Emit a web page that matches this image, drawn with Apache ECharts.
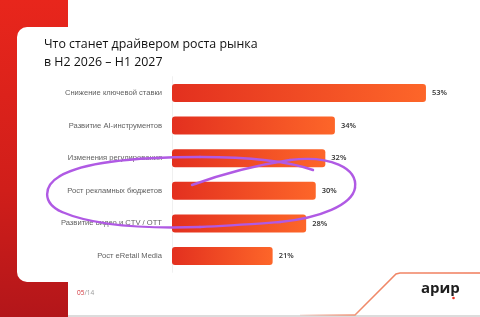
<!DOCTYPE html>
<html>
<head>
<meta charset="utf-8">
<script src="https://cdn.jsdelivr.net/npm/echarts@6/dist/echarts.min.js"></script>
<style>
  html, body { margin: 0; padding: 0; background: #fff; }
  #chart { width: 480px; height: 317px; }
</style>
</head>
<body>
<div id="chart"></div>
<script>
// данные
const categories = [
  'Снижение ключевой ставки',
  'Развитие AI-инструментов',
  'Изменения регулирования',
  'Рост рекламных бюджетов',
  'Развитие видео и CTV / OTT',
  'Рост eRetail Media'
]
const values = [53, 34, 32, 30, 28, 21]

const chart = echarts.init(document.getElementById('chart'))

const barColor = new echarts.graphic.LinearGradient(0, 0, 1, 0, [
  { offset: 0, color: '#e3301f' },
  { offset: 1, color: '#fd6629' }
])

// пометка от руки (кривые Безье)
const penStroke = { fill: null, stroke: '#b05ae4', lineWidth: 2.4, lineCap: 'round' }
const penCurves = [
  [192, 185, 222.7, 173.7, 255.3, 165.3, 290, 160],
  [290, 160, 330, 155, 358, 168, 355, 188],
  [355, 188, 352, 205, 320, 218, 280, 222],
  [280, 222, 253, 224, 227, 226, 200, 227],
  [200, 227, 140, 229, 90, 224, 62, 212],
  [62, 212, 42, 203, 43, 186, 60, 176],
  [60, 176, 82, 163, 130, 157, 200, 157],
  [200, 157, 250, 157, 290, 162, 313, 170]
].map(c => ({
  type: 'bezierCurve', z: 100, silent: true,
  shape: { x1: c[0], y1: c[1], cpx1: c[2], cpy1: c[3], cpx2: c[4], cpy2: c[5], x2: c[6], y2: c[7] },
  style: penStroke
}))

chart.setOption({
  backgroundColor: '#fff',
  animation: false,
  title: {
    text: 'Что станет драйвером роста рынка\nв H2 2026 – H1 2027',
    left: 44,
    top: 35,
    padding: 0,
    textStyle: {
      fontFamily: 'Open Sans',
      fontSize: 12.4,
      fontWeight: 'normal',
      lineHeight: 18,
      color: '#111'
    }
  },
  graphic: [
    // красная панель слева
    {
      type: 'rect', z: -20, silent: true,
      shape: { x: 0, y: 0, width: 68, height: 317 },
      style: {
        fill: new echarts.graphic.LinearGradient(0, 0, 0, 1, [
          { offset: 0, color: '#e8261c' },
          { offset: 0.6, color: '#d01e1a' },
          { offset: 1, color: '#b3161a' }
        ])
      }
    },
    // белая карточка
    {
      type: 'rect', z: -15, silent: true,
      shape: { x: 17, y: 27, width: 480, height: 255, r: [10, 0, 0, 10] },
      style: { fill: '#fff' }
    },
    {
      type: 'rect', z: -15, silent: true,
      shape: { x: 68, y: 282, width: 412, height: 33 },
      style: { fill: '#fff' }
    },
    {
      type: 'rect', z: -14, silent: true,
      shape: { x: 68, y: 315, width: 412, height: 2 },
      style: { fill: '#dcdcdc' }
    },
    // декоративная линия
    {
      type: 'polyline', z: -10, silent: true,
      shape: { points: [[300, 315], [355, 315], [396, 274], [400, 273], [480, 273]] },
      style: {
        fill: null,
        lineWidth: 1.5,
        stroke: new echarts.graphic.LinearGradient(0, 0, 1, 0, [
          { offset: 0, color: 'rgba(240,120,90,0.1)' },
          { offset: 0.35, color: '#f08a6a' },
          { offset: 1, color: '#f07a5a' }
        ])
      }
    },
    // номер страницы
    {
      type: 'text', z: 10, silent: true,
      x: 77, y: 290,
      style: {
        text: '{a|05}{b|/14}',
        rich: {
          a: { fontFamily: 'Open Sans', fontSize: 6.5, fill: '#d2343a' },
          b: { fontFamily: 'Open Sans', fontSize: 6.5, fill: '#9a9a9a' }
        }
      }
    },
    // логотип
    {
      type: 'text', z: 10, silent: true,
      x: 421, y: 281,
      style: {
        text: 'арир',
        fontFamily: 'Open Sans',
        fontWeight: 'bold',
        fontSize: 15,
        fill: '#1e1e1e'
      }
    },
    {
      type: 'circle', z: 11, silent: true,
      shape: { cx: 453.5, cy: 298, r: 1.3 },
      style: { fill: '#ee3322' }
    }
  ].concat(penCurves),
  grid: {
    left: 172,
    right: 20.5,
    top: 76.7,
    bottom: 44.7,
    containLabel: false
  },
  xAxis: {
    type: 'value',
    min: 0,
    max: 60,
    show: false
  },
  yAxis: {
    type: 'category',
    data: categories,
    inverse: true,
    axisLine: { show: true, lineStyle: { color: '#f0f0f0', width: 1 } },
    axisTick: { show: false },
    axisLabel: {
      margin: 10,
      fontFamily: 'Liberation Sans',
      fontSize: 7.6,
      color: '#5f5f5f'
    }
  },
  series: [
    {
      type: 'bar',
      data: values,
      barWidth: 18,
      itemStyle: { color: barColor, borderRadius: 3 },
      label: {
        show: true,
        position: 'right',
        distance: 6,
        formatter: '{c}%',
        fontFamily: 'Open Sans',
        fontSize: 7.5,
        fontWeight: 600,
        color: '#333'
      }
    }
  ]
})

window.addEventListener('resize', () => {
  chart.resize()
})
</script>
</body>
</html>
